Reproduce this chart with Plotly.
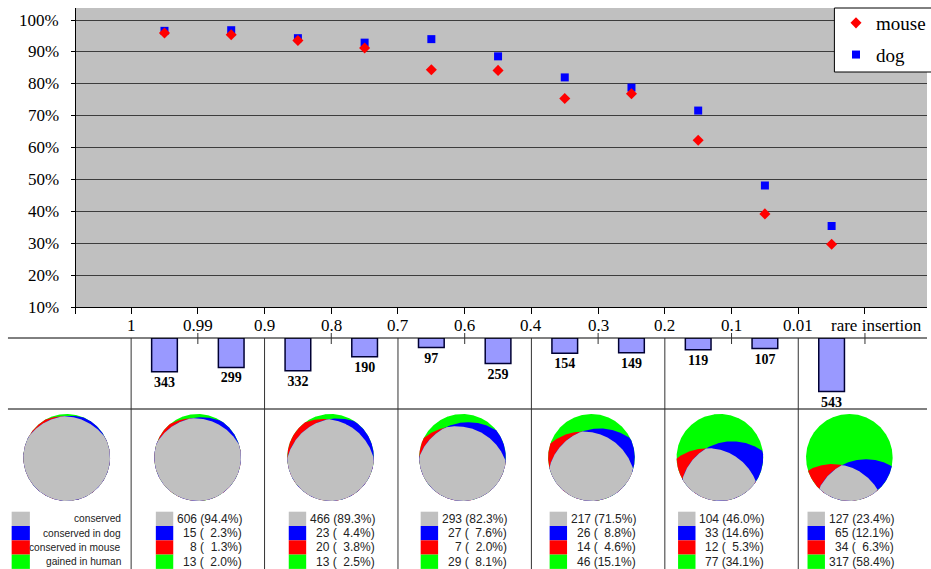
import numpy as np
import plotly.graph_objects as go

# ---------------- data ----------------
# boundaries of the frequency bins along the upper x axis
bin_edges = ["1", "0.99", "0.9", "0.8", "0.7", "0.6", "0.4", "0.3", "0.2", "0.1", "0.01"]
last_bin_label = "rare insertion"
pct_ticks = [10, 20, 30, 40, 50, 60, 70, 80, 90, 100]

# share of human insertions conserved, per bin (percent)
mouse_pct = [95.9, 95.4, 93.6, 91.2, 84.4, 84.2, 75.4, 76.9, 62.3, 39.2, 29.7]
dog_pct = [96.6, 96.8, 94.3, 92.9, 94.0, 88.6, 82.0, 78.8, 71.6, 48.1, 35.4]

# number of insertions per bin
bin_counts = [343, 299, 332, 190, 97, 259, 154, 149, 119, 107, 543]

# grouped classes (two bins per column, last column = rare insertions)
class_names = ["conserved", "conserved in dog", "conserved in mouse", "gained in human"]
class_colors = ["#C0C0C0", "#0000FF", "#FF0000", "#00FF00"]
conserved_n = [606, 466, 293, 217, 104, 127]
dog_only_n = [15, 23, 27, 26, 33, 65]
mouse_only_n = [8, 20, 7, 14, 12, 34]
gained_n = [13, 13, 29, 46, 77, 317]
conserved_pct = [94.4, 89.3, 82.3, 71.5, 46.0, 23.4]
dog_only_pct = [2.3, 4.4, 7.6, 8.8, 14.6, 12.1]
mouse_only_pct = [1.3, 3.8, 2.0, 4.6, 5.3, 6.3]
gained_pct = [2.0, 2.5, 8.1, 15.1, 34.1, 58.4]
# illustrative disc shown next to the class key
key_disc_pct = [97.0, 1.3, 0.9, 0.8]

# ---------------- page geometry (pixels) ----------------
W, H = 931, 569
PLOT_L, PLOT_T, PLOT_B = 76, 8, 307
TABLE_T, TABLE_M = 338, 409
PIE_CY, PIE_R = 457.5, 43.5
pie_cx = [67, 198.5, 332, 464.5, 594, 723, 853]
ROW_TOP, ROW_H = 511.7, 14.3
LEG_L, LEG_T, LEG_B = 838, 8, 72
SERIF = "Liberation Serif"
AXIS_FONT = dict(size=17, family=SERIF, color="black")


def py(px):
    """pixel row -> paper fraction"""
    return (H - px) / H


# ---------------- disc geometry ----------------
RHO = 1.2  # radius of the two class circles relative to the disc
g = np.linspace(-1, 1, 401)
GX, GY = np.meshgrid(g, g)
INSIDE = GX ** 2 + GY ** 2 <= 1.0
N_INSIDE = INSIDE.sum()


def lens_area(D, r=RHO):
    if D >= 1 + r:
        return 0.0
    if D <= r - 1:
        return np.pi
    a1 = np.arccos((D * D + 1 - r * r) / (2 * D))
    a2 = np.arccos((D * D + r * r - 1) / (2 * D * r))
    k = (-D + 1 + r) * (D + 1 - r) * (D - 1 + r) * (D + 1 + r)
    return a1 + r * r * a2 - 0.5 * np.sqrt(max(k, 0.0))


def dist_for_share(share):
    lo, hi = RHO - 1, 1 + RHO
    for _ in range(60):
        mid = 0.5 * (lo + hi)
        if lens_area(mid) / np.pi > share:
            lo = mid
        else:
            hi = mid
    return 0.5 * (lo + hi)


def in_circle(c):
    return (GX - c[0]) ** 2 + (GY - c[1]) ** 2 <= c[2] ** 2


def class_circles(gray, blue, red):
    """left circle = conserved in mouse, right circle = conserved in dog"""
    DL = dist_for_share(gray + red)
    DR = dist_for_share(gray + blue)

    def centers(d):
        return ((-d, -np.sqrt(max(DL ** 2 - d * d, 0.0)), RHO),
                (d, -np.sqrt(max(DR ** 2 - d * d, 0.0)), RHO))

    lo, hi = 0.0, min(DL, DR)
    for _ in range(32):
        mid = 0.5 * (lo + hi)
        cL, cR = centers(mid)
        share = (INSIDE & in_circle(cL) & in_circle(cR)).sum() / N_INSIDE
        if share > gray:
            lo = mid
        else:
            hi = mid
    return centers(0.5 * (lo + hi))


TH = np.linspace(0, 2 * np.pi, 721)
U = np.stack([np.cos(TH), np.sin(TH)], axis=1)


def convex_outline(circles):
    m = INSIDE.copy()
    for c in circles:
        m &= in_circle(c)
    p = np.array([GX[m].mean(), GY[m].mean()])
    t = np.full(len(TH), np.inf)
    for cx, cy, r in circles:
        w = p - np.array([cx, cy])
        b = U @ w
        c = w @ w - r * r
        t = np.minimum(t, -b + np.sqrt(np.maximum(b * b - c, 0.0)))
    return p + U * t[:, None]


fig = go.Figure()

# ---------------- upper panel ----------------
x_mid = [i + 0.5 for i in range(len(bin_counts))]
fig.add_trace(go.Scatter(
    x=x_mid[:len(dog_pct)], y=dog_pct, mode="markers", name="dog",
    legendrank=2, legendgroup="dog",
    marker=dict(symbol="square", size=8, color="#0000FF"), cliponaxis=False))
fig.add_trace(go.Scatter(
    x=x_mid[:len(mouse_pct)], y=mouse_pct, mode="markers", name="mouse",
    legendrank=1, legendgroup="mouse",
    marker=dict(symbol="diamond", size=8.5, color="#FF0000"), cliponaxis=False))

# ---------------- bin sizes ----------------
fig.add_trace(go.Bar(
    x=x_mid, y=bin_counts, xaxis="x2", yaxis="y2", width=0.385,
    marker=dict(color="#9999FF", line=dict(color="#000033", width=1.5)),
    text=[str(c) for c in bin_counts], textposition="outside",
    textfont=dict(family=SERIF, size=14, color="black", weight="bold"),
    constraintext="none", cliponaxis=False, showlegend=False, hoverinfo="skip"))

# ---------------- class discs ----------------
disc_shares = [key_disc_pct] + [
    [conserved_pct[i], dog_only_pct[i], mouse_only_pct[i], gained_pct[i]]
    for i in range(len(conserved_pct))]

outer = (0.0, 0.0, 1.0)
for cx, shares in zip(pie_cx, disc_shares):
    gray, blue, red = shares[0] / 100, shares[1] / 100, shares[2] / 100
    cL, cR = class_circles(gray, blue, red)
    layers = [
        ([outer], class_colors[3]),
        ([outer, cL], class_colors[2]),
        ([outer, cR], class_colors[1]),
        ([outer, cL, cR], class_colors[0]),
    ]
    for circles, col in layers:
        pts = convex_outline(circles)
        fig.add_trace(go.Scatter(
            x=cx + pts[:, 0] * PIE_R, y=PIE_CY - pts[:, 1] * PIE_R,
            mode="lines", fill="toself", fillcolor=col, line=dict(width=0),
            xaxis="x3", yaxis="y3", hoverinfo="skip", showlegend=False))

# ---------------- layout ----------------
tick_pos = list(range(len(bin_edges) + 1))
x_lo = (PLOT_L - 131.7) / 67
fig.update_layout(
    width=W, height=H, margin=dict(l=0, r=0, t=0, b=0),
    paper_bgcolor="white", plot_bgcolor="white",
    font=dict(family=SERIF, color="black"),
    xaxis=dict(domain=[PLOT_L / W, 1], range=[x_lo, (W - 131.7) / 67],
               tickmode="array", tickvals=[x_lo + 1e-4] + tick_pos, showticklabels=False,
               ticks="outside", ticklen=6, tickcolor="black", showline=True,
               linecolor="black", linewidth=1, showgrid=False, zeroline=False,
               anchor="y", fixedrange=True),
    yaxis=dict(domain=[py(PLOT_B), py(PLOT_T)], range=[10, 10 + (PLOT_B - PLOT_T) * 90 / 287],
               tickmode="array", tickvals=pct_ticks, showticklabels=False,
               ticks="outside", ticklen=4, tickcolor="black", showline=True,
               linecolor="black", linewidth=1, showgrid=True, gridcolor="#3c3c3c",
               gridwidth=1, zeroline=False, anchor="x", fixedrange=True),
    xaxis2=dict(domain=[PLOT_L / W, 1], matches="x", visible=False, anchor="y2"),
    yaxis2=dict(domain=[py(TABLE_M), py(TABLE_T)], range=[720, 0], visible=False, anchor="x2"),
    xaxis3=dict(domain=[0, 1], range=[0, W], visible=False, anchor="y3"),
    yaxis3=dict(domain=[0, py(TABLE_M)], range=[H, TABLE_M], visible=False, anchor="x3"),
    legend=dict(x=(LEG_L + 2) / W, y=py(LEG_T - 4), xanchor="left", yanchor="top",
                bgcolor="rgba(0,0,0,0)", borderwidth=0,
                font=dict(family=SERIF, size=19, color="black"),
                traceorder="grouped", itemwidth=30, tracegroupgap=4),
)

shapes = [
    dict(type="rect", xref="x domain", yref="y domain", x0=0, x1=1, y0=0, y1=1,
         fillcolor="#C0C0C0", line=dict(width=0), layer="below"),
    # legend frame
    dict(type="rect", xref="paper", yref="paper", x0=LEG_L / W, x1=1.01,
         y0=py(LEG_B), y1=py(LEG_T), fillcolor="white",
         line=dict(color="black", width=1), layer="above"),
    dict(type="line", xref="paper", yref="paper", x0=8 / W, x1=1, y0=py(TABLE_T), y1=py(TABLE_T),
         line=dict(color="black", width=1)),
    dict(type="line", xref="paper", yref="paper", x0=8 / W, x1=1, y0=py(TABLE_M), y1=py(TABLE_M),
         line=dict(color="black", width=1)),
]
for k in range(0, len(bin_edges), 2):
    shapes.append(dict(type="line", xref="x", yref="paper", x0=k, x1=k, y0=0, y1=py(TABLE_T),
                       line=dict(color="#333333", width=1)))
for k in range(1, len(bin_edges) + 1, 2):
    shapes.append(dict(type="line", xref="x", yref="paper", x0=k, x1=k,
                       y0=py(TABLE_T + 6), y1=py(TABLE_T - 5),
                       line=dict(color="#333333", width=1)))

# axis labels
annotations = []
for v in pct_ticks:
    annotations.append(dict(x=61.7 / W, y=v, xref="paper", yref="y", text=f"{v}%",
                            showarrow=False, xanchor="right", yanchor="middle", font=AXIS_FONT))
for k, lab in enumerate(bin_edges):
    annotations.append(dict(x=k, y=py(325), xref="x", yref="paper", text=lab,
                            showarrow=False, xanchor="center", yanchor="middle", font=AXIS_FONT))
annotations.append(dict(x=11.17, y=py(325), xref="x", yref="paper", text=last_bin_label,
                        showarrow=False, xanchor="center", yanchor="middle", font=AXIS_FONT))

# class key and per-column counts
for r in range(4):
    top = ROW_TOP + r * ROW_H
    shapes.append(dict(type="rect", xref="x3", yref="y3", x0=11.7, x1=30, y0=top, y1=top + ROW_H,
                       fillcolor=class_colors[r], line=dict(width=0)))
    annotations.append(dict(x=123.3, y=top + ROW_H / 2, xref="x3", yref="y3", text=class_names[r],
                            showarrow=False, xanchor="right", yanchor="middle",
                            font=dict(family="Liberation Sans", size=10.2, color="#222222")))

col_counts = [conserved_n, dog_only_n, mouse_only_n, gained_n]
col_pcts = [conserved_pct, dog_only_pct, mouse_only_pct, gained_pct]
for i, cx in enumerate(pie_cx[1:]):
    for r in range(4):
        top = ROW_TOP + r * ROW_H
        shapes.append(dict(type="rect", xref="x3", yref="y3", x0=cx - 42, x1=cx - 24.5,
                           y0=top, y1=top + ROW_H, fillcolor=class_colors[r], line=dict(width=0)))
        p = col_pcts[r][i]
        pad = "\u00a0\u00a0" if p < 10 else ""
        label = f"{col_counts[r][i]} ({pad}{p:.1f}%)"
        annotations.append(dict(x=cx + 46.5, y=top + ROW_H / 2, xref="x3", yref="y3", text=label,
                                showarrow=False, xanchor="right", yanchor="middle",
                                font=dict(family="Liberation Sans", size=12, color="#222222")))

fig.update_layout(shapes=shapes, annotations=annotations)
fig.write_html("out.html")
